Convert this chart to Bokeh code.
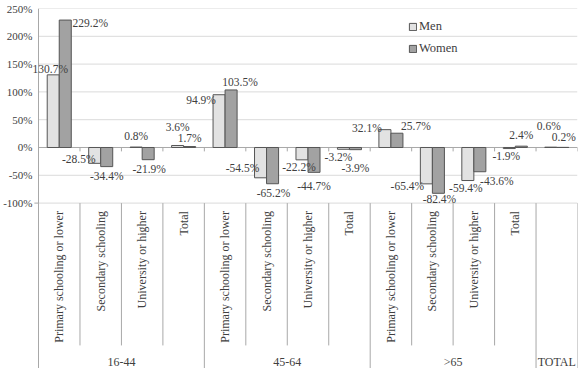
import numpy as np
from bokeh.plotting import figure
from bokeh.models import (Range1d, FixedTicker, PrintfTickFormatter, ColumnDataSource,
                          Legend, LegendItem)
from bokeh.core.properties import value
from bokeh.embed import file_html
from bokeh.resources import INLINE

# ---- data -------------------------------------------------------------
age_groups = ["16-44", "45-64", ">65", "TOTAL"]
education = ["Primary schooling or lower", "Secondary schooling",
             "University or higher", "Total"]
# 13 slots: 4 education levels for each of the three age groups, then the overall total
slot_group = [0] * 4 + [1] * 4 + [2] * 4 + [3]
slot_label = education * 3 + [""]

men = [130.7, -28.5, 0.8, 3.6, 94.9, -54.5, -22.2, -3.2, 32.1, -65.4, -59.4, -1.9, 0.6]
women = [229.2, -34.4, -21.9, 1.7, 103.5, -65.2, -44.7, -3.9, 25.7, -82.4, -43.6, 2.4, 0.2]

y_ticks = [-100, -50, 0, 50, 100, 150, 200, 250]

# ---- label placement (screen px, relative to each bar's end) ------------
men_dx = [-3, -16, 0, 0, -18, -18, -3, -5, -18, -19, -2, -3, -2]
men_dy = [-6, -4, -11, -18, 5, -10, 7, 8, -2, 2, 7, 7, -21]
women_dx = [25, 0, 1, 0, 9, 1, 0, 0, 19, 1, 17, 0, 1]
women_dy = [3, 9, 9, -9, -8, 9, 14, 18, -7, 6, 9, -11, -10]

# ---- styling ----------------------------------------------------------
FONT = "Liberation Serif"
TXT = "#404040"
MEN_FILL = "#e2e2e2"
WOMEN_FILL = "#a2a2a2"
BAR_LINE = "#555555"
AXIS = "#a8a8a8"
GRID = "#dadada"

BAR_W = 0.29
X_PAD = 0.145           # room left of the first slot so labels can overhang the axis
Y_MIN = -397.5          # bottom of the frame; the band below -100 holds the category table
CAT_BOTTOM = -356       # end of the short separators between education levels

n = len(men)
xc = np.arange(n) + 0.5

src = ColumnDataSource(dict(
    xm=xc - BAR_W / 2, xw=xc + BAR_W / 2,
    men=men, women=women,
    men_txt=[f"{v:.1f}%" for v in men],
    women_txt=[f"{v:.1f}%" for v in women],
    men_dx=men_dx, men_dy=men_dy, women_dx=women_dx, women_dy=women_dy,
))

p = figure(width=582, height=368, output_backend="svg", toolbar_location=None,
           x_range=Range1d(-X_PAD, n), y_range=Range1d(Y_MIN, 250),
           x_axis_location=None, min_border_left=32, min_border_right=5,
           min_border_top=8, min_border_bottom=0)
p.outline_line_color = None
p.background_fill_color = "white"
p.border_fill_color = "white"

# value axis (labels only; its line is drawn at x = 0 below)
ax = p.yaxis[0]
ax.ticker = FixedTicker(ticks=y_ticks)
ax.formatter = PrintfTickFormatter(format="%d%%")
ax.axis_line_color = None
ax.major_tick_line_color = None
ax.minor_tick_line_color = None
ax.major_tick_out = 0
ax.major_tick_in = 0
ax.minor_tick_out = 0
ax.minor_tick_in = 0
ax.major_label_standoff = 0
ax.major_label_text_font = FONT
ax.major_label_text_font_size = "11px"
ax.major_label_text_color = TXT
p.grid.visible = False

# horizontal gridlines from the axis to the right edge
grid_y = [t for t in y_ticks if t != 0]
p.segment(x0=0, y0=grid_y, x1=n, y1=grid_y, line_color=GRID, line_width=1)

# zero line with small ticks between the slots
p.segment(x0=0, y0=0, x1=n, y1=0, line_color=AXIS, line_width=1)
bounds = np.arange(1, n + 1)
p.segment(x0=bounds, y0=0, x1=bounds, y1=-7, line_color=AXIS, line_width=1)

# bars
r_men = p.vbar(x="xm", top="men", bottom=0, width=BAR_W, source=src,
               fill_color=MEN_FILL, line_color=BAR_LINE, line_width=1)
r_women = p.vbar(x="xw", top="women", bottom=0, width=BAR_W, source=src,
                 fill_color=WOMEN_FILL, line_color=BAR_LINE, line_width=1)

# category table below the chart
edges = np.arange(0, n + 1)
long_edges = [e for e in edges if e == n or e == 0 or slot_group[e] != slot_group[e - 1]]
short_edges = [e for e in edges if e not in long_edges]
p.segment(x0=short_edges, y0=-100, x1=short_edges, y1=CAT_BOTTOM, line_color=AXIS)
p.segment(x0=long_edges, y0=-100, x1=long_edges, y1=Y_MIN - 5, line_color=AXIS)
# the value axis line itself, with the small tick at its lower end
p.segment(x0=0, y0=y_ticks[0], x1=0, y1=y_ticks[-1], line_color=AXIS)
p.segment(x0=-0.1, y0=y_ticks[0], x1=0, y1=y_ticks[0], line_color=AXIS)

# value labels
lab_kw = dict(text_font=value(FONT), text_font_size="11.5px", text_color=TXT,
              text_align="center", text_baseline="middle", source=src)
p.text(x="xm", y="men", text="men_txt", x_offset="men_dx", y_offset="men_dy", **lab_kw)
p.text(x="xw", y="women", text="women_txt", x_offset="women_dx", y_offset="women_dy", **lab_kw)

p.text(x=xc, y=[-100] * n, text=slot_label, angle=np.pi / 2, y_offset=8,
       text_align="right", text_baseline="middle", text_font=value(FONT),
       text_font_size="12px", text_color=TXT)

grp_x = [np.mean([xc[i] for i in range(n) if slot_group[i] == g]) for g in range(len(age_groups))]
p.text(x=grp_x, y=[Y_MIN] * len(grp_x), text=age_groups, y_offset=-7,
       text_align="center", text_baseline="middle", text_font=value(FONT),
       text_font_size="12px", text_color=TXT)

# legend
legend = Legend(items=[LegendItem(label="Men", renderers=[r_men]),
                       LegendItem(label="Women", renderers=[r_women])],
                location=(376, 312), orientation="vertical",
                background_fill_alpha=0, border_line_alpha=0,
                padding=0, margin=0, spacing=7,
                glyph_width=9, glyph_height=9, label_height=9,
                label_standoff=2, label_text_font=FONT,
                label_text_font_size="12.5px", label_text_color=TXT)
p.add_layout(legend)

open("out.html", "w").write(file_html(p, INLINE))
